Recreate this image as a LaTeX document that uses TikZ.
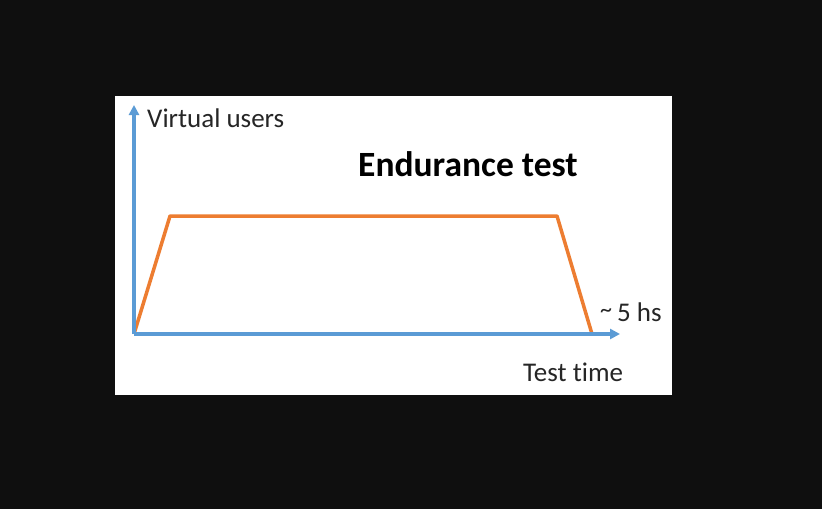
\documentclass[tikz,border=0pt]{standalone}
\usepackage{fontspec}
\setmainfont{Carlito}[RawFeature=-liga]
\usepackage{xcolor}
\usepackage{tikz}
\usetikzlibrary{positioning,arrows.meta}
\definecolor{axisblue}{HTML}{5B9BD5}
\definecolor{loadorange}{HTML}{ED7D31}
\definecolor{bgdark}{HTML}{0F0F0F}
\tikzset{axis line/.style={draw=axisblue,line width=3.5pt,-{Triangle[length=10pt,width=10pt]}},
load line/.style={draw=loadorange,line width=3.5pt,line join=round},
axis label/.style={inner sep=0pt,anchor=base west,text=black!85,font=\fontsize{27}{32}\selectfont},}

\begin{document}
\begin{tikzpicture}[x=1pt,y=-1pt]
    \useasboundingbox (0,0) rectangle (822,509);
    \fill[bgdark] (0,0) rectangle (822,509);
    \fill[white] (115,96) rectangle (672,395);

    \coordinate (o) at (134,334);
    \coordinate (ytop) at (134,105);
    \coordinate (xend) at (620,334);
    \coordinate (1) at (170,216);
    \coordinate (2) at (557,216);
    \coordinate (3) at (592,334);

    \node[axis label] (vu) at (147,127) {Virtual users};
    \node[axis label] (tt) at (523,381) {Test time};
    \node[axis label] (hs) at (600,321) {\raisebox{4pt}{\fontsize{24}{28}\selectfont\textasciitilde}\hspace{5pt}5 hs};
    \node[inner sep=0pt,anchor=base west,font=\bfseries\fontsize{35.5}{40}\selectfont] (title) at (358,176) {Endurance test};

    \path[load line] (o) -- (1) -- (2) -- (3);
    \path[axis line] (o) -- (ytop);
    \path[axis line] (o) -- (xend);
\end{tikzpicture}
\end{document}
